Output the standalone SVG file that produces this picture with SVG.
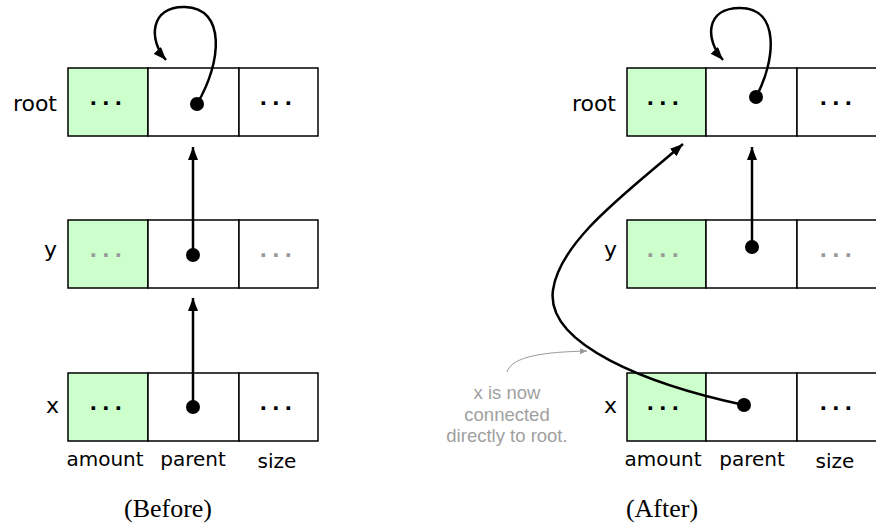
<svg xmlns="http://www.w3.org/2000/svg" width="876" height="523" viewBox="0 0 876 523">
<style>
.cell{fill:#fff;stroke:#000;stroke-width:1.5}
.amt{fill:#ccffcc}
.lbl{font-family:"DejaVu Sans",sans-serif;font-size:22px;fill:#000}
.fld{font-family:"DejaVu Sans",sans-serif;font-size:20px;fill:#000;text-anchor:middle}
.dots{font-family:"DejaVu Sans",sans-serif;font-size:20px;font-weight:bold;fill:#000}
.gdots{fill:#999}
.ptr{fill:none;stroke:#000;stroke-width:2.5}
.pdot{fill:#000}
.cap{font-family:"Liberation Serif",serif;font-size:26px;fill:#000;text-anchor:middle}
.note{font-family:"Liberation Sans",sans-serif;font-size:18.5px;fill:#a0a0a0;text-anchor:middle}
</style>
<defs>
<marker id="ah" markerUnits="userSpaceOnUse" markerWidth="14" markerHeight="12" refX="13" refY="5" orient="auto">
<path d="M0,0 L13,5 L0,10 Z" fill="#000"/>
</marker>
<marker id="gah" markerUnits="userSpaceOnUse" markerWidth="8" markerHeight="8" refX="7" refY="3" orient="auto">
<path d="M0,0 L7,3 L0,6 Z" fill="#999"/>
</marker>
</defs>

<g id="before-root">
<rect class="cell amt" x="68" y="68" width="80" height="68"/>
<rect class="cell" x="148" y="68" width="91" height="68"/>
<rect class="cell" x="239" y="68" width="79" height="68"/>
<text class="lbl" x="57" y="111" text-anchor="end">root</text>
<text class="dots" x="89.5 102 114.5" y="110">···</text>
<text class="dots" x="259.5 272 284.5" y="110">···</text>
</g>

<g id="before-y">
<rect class="cell amt" x="68" y="220" width="80" height="68"/>
<rect class="cell" x="148" y="220" width="91" height="68"/>
<rect class="cell" x="239" y="220" width="79" height="68"/>
<text class="lbl" x="57" y="257" text-anchor="end">y</text>
<text class="dots gdots" x="89.5 102 114.5" y="262">···</text>
<text class="dots gdots" x="259.5 272 284.5" y="262">···</text>
</g>

<g id="before-x">
<rect class="cell amt" x="68" y="373" width="80" height="68"/>
<rect class="cell" x="148" y="373" width="91" height="68"/>
<rect class="cell" x="239" y="373" width="79" height="68"/>
<text class="lbl" x="59" y="413" text-anchor="end">x</text>
<text class="dots" x="89.5 102 114.5" y="415">···</text>
<text class="dots" x="259.5 272 284.5" y="415">···</text>
<text class="fld" x="105" y="466">amount</text>
<text class="fld" x="193" y="466">parent</text>
<text class="fld" x="277" y="468">size</text>
</g>

<g id="after-root">
<rect class="cell amt" x="627" y="68" width="79" height="68"/>
<rect class="cell" x="706" y="68" width="91" height="68"/>
<rect class="cell" x="797" y="68" width="80" height="68"/>
<text class="lbl" x="616" y="111" text-anchor="end">root</text>
<text class="dots" x="646.5 659 671.5" y="110">···</text>
<text class="dots" x="819.5 832 844.5" y="110">···</text>
</g>

<g id="after-y">
<rect class="cell amt" x="627" y="220" width="79" height="68"/>
<rect class="cell" x="706" y="220" width="91" height="68"/>
<rect class="cell" x="797" y="220" width="80" height="68"/>
<text class="lbl" x="617" y="257" text-anchor="end">y</text>
<text class="dots gdots" x="646.5 659 671.5" y="262">···</text>
<text class="dots gdots" x="819.5 832 844.5" y="262">···</text>
</g>

<g id="after-x">
<rect class="cell amt" x="627" y="373" width="79" height="68"/>
<rect class="cell" x="706" y="373" width="91" height="68"/>
<rect class="cell" x="797" y="373" width="80" height="68"/>
<text class="lbl" x="617" y="413" text-anchor="end">x</text>
<text class="dots" x="646.5 659 671.5" y="415">···</text>
<text class="dots" x="819.5 832 844.5" y="415">···</text>
<text class="fld" x="663" y="466">amount</text>
<text class="fld" x="752" y="466">parent</text>
<text class="fld" x="835" y="468">size</text>
</g>

<g id="captions">
<text class="cap" x="168" y="517">(Before)</text>
<text class="cap" x="662" y="517">(After)</text>
</g>

<g id="note">
<text class="note" x="507" y="399">x is now</text>
<text class="note" x="507" y="421">connected</text>
<text class="note" x="507" y="442">directly to root.</text>
<path d="M507,372 C512,356 545,352 587,351" fill="none" stroke="#999" stroke-width="1" marker-end="url(#gah)"/>
</g>

<g id="connectors">
<path class="ptr" d="M197,104 C222,62 226,8 185,7 C150,6 148,40 166,60" marker-end="url(#ah)"/>
<path class="ptr" d="M193,255 L193,147" marker-end="url(#ah)"/>
<path class="ptr" d="M193,407 L193,298" marker-end="url(#ah)"/>
<path class="ptr" d="M756,97 C776,60 780,8 740,8 C705,8 705,40 723,60" marker-end="url(#ah)"/>
<path class="ptr" d="M752,247 L752,147" marker-end="url(#ah)"/>
<path class="ptr" d="M744,405 C650,385 545,345 553,290 C560,240 630,190 683,144" marker-end="url(#ah)"/>
<circle class="pdot" cx="197" cy="104" r="7"/>
<circle class="pdot" cx="193" cy="255" r="7"/>
<circle class="pdot" cx="193" cy="407" r="7"/>
<circle class="pdot" cx="756" cy="97" r="7"/>
<circle class="pdot" cx="752" cy="247" r="7"/>
<circle class="pdot" cx="744" cy="405" r="7"/>
</g>
</svg>
